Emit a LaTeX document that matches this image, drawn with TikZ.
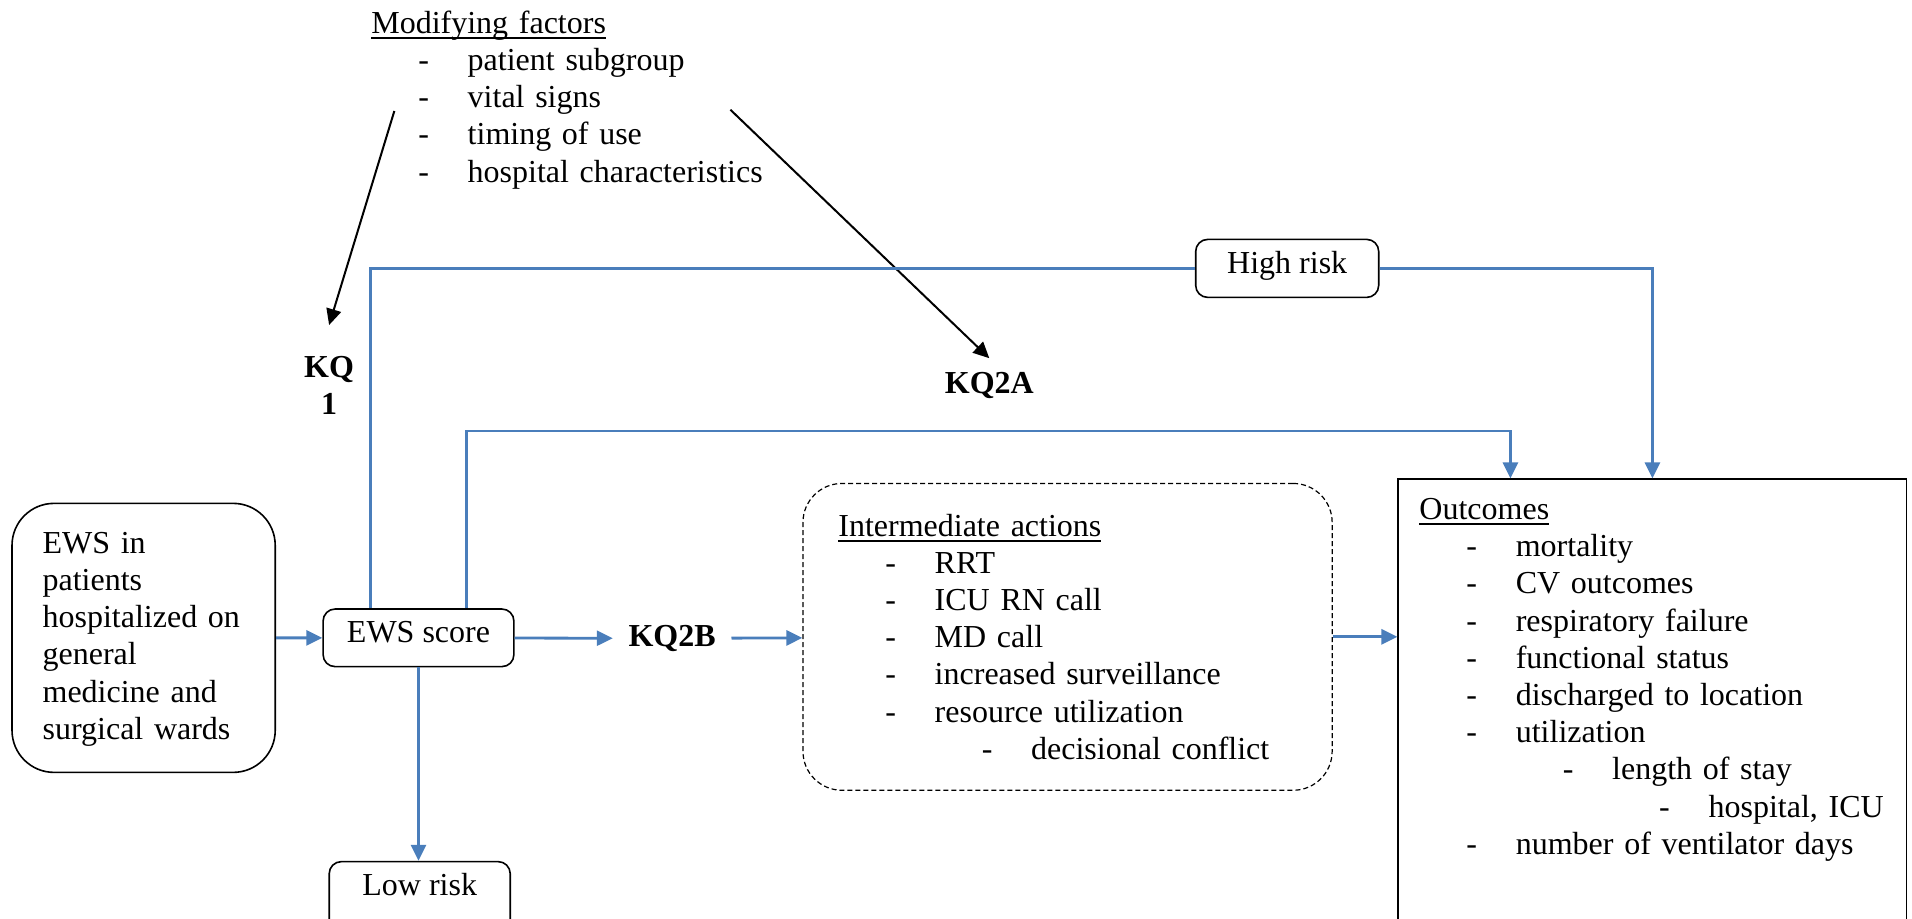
\documentclass[tikz,border=0pt]{standalone}
\usepackage{fontspec}
\setmainfont{Liberation Serif}
\usetikzlibrary{arrows.meta}
\definecolor{flowblue}{RGB}{74,126,187}
\newlength\dashstep
\setlength\dashstep{48.2pt}
\newcommand\dashitem[2][0]{\hspace*{#1\dashstep}\makebox[\dashstep][l]{\hspace*{23.5pt}-}#2}
\newcommand\undertitle[1]{\setbox0\hbox{#1}\rlap{\vrule height -2pt depth 2.8pt width \wd0}#1}

\begin{document}
\begin{tikzpicture}[x=0.6097pt, y=-0.6097pt, >={Triangle[length=8pt,width=7.5pt]},
  every node/.style={font=\fontsize{16pt}{18.6pt}\selectfont},
  box/.style={draw, line width=0.8pt, rounded corners=6pt, inner sep=0pt},
  flow/.style={draw=flowblue, line width=1.4pt},
  kq/.style={font=\fontsize{16pt}{18.6pt}\selectfont\bfseries, inner sep=0pt}]
\useasboundingbox (0,0) rectangle (1568,753);
\clip (0,0) rectangle (1568,753);

\node[anchor=base west, inner sep=0pt, text width=200pt, align=left] (factors) at (304.2,27.3)
  {\undertitle{Modifying factors}\\ \dashitem{patient~subgroup}\\ \dashitem{vital~signs}\\
   \dashitem{timing~of~use}\\ \dashitem{hospital~characteristics}};

\node[kq, anchor=north, align=center] (kqone) at (269.9,291.8) {KQ\\1};
\node[kq, anchor=base] (kqtwoa) at (811.3,322.6) {KQ2A};
\node[kq, inner xsep=7.7pt] (kqtwob) at (551.2,523.5) {KQ2B};

\node[box, rounded corners=21pt, anchor=base west, text width=101pt, align=left,
  inner xsep=15.3pt, text height=25pt, text depth=109.5pt] (ews) at (9.2,453.8)
  {EWS~in\\ patients\\ hospitalized~on\\ general\\ medicine~and\\ surgical~wards};
\node[box, anchor=base, minimum width=95.4pt, text height=16.8pt, text depth=12pt] (score) at (343.2,527) {EWS score};
\node[box, anchor=base, minimum width=90.5pt, text height=16.7pt, text depth=40pt] (low) at (344.2,734) {Low risk};
\node[box, anchor=base, minimum width=91.5pt, text height=17pt, text depth=12pt] (high) at (1055.6,224.2) {High risk};

\node[box, line width=0.6pt, dash pattern=on 2.5pt off 1.5pt, rounded corners=19.5pt, anchor=base west,
  text width=229.2pt, align=left, inner xsep=17.7pt, text height=26.3pt, text depth=127.1pt] (inter) at (658,439.6)
  {\undertitle{Intermediate actions}\\ \dashitem{RRT}\\ \dashitem{ICU~RN~call}\\ \dashitem{MD~call}\\
   \dashitem{increased~surveillance}\\ \dashitem{resource~utilization}\\ \dashitem[1]{decisional~conflict}};

\node[draw, line width=0.8pt, inner sep=0pt, anchor=base west, text width=233pt, align=left,
  inner xsep=10.6pt, text height=20.1pt, text depth=400pt] (outcomes) at (1146,426)
  {\undertitle{Outcomes}\\ \dashitem{mortality}\\ \dashitem{CV~outcomes}\\ \dashitem{respiratory~failure}\\
   \dashitem{functional~status}\\ \dashitem{discharged~to~location}\\ \dashitem{utilization}\\
   \dashitem[1]{length~of~stay}\\ \dashitem[2]{hospital,~ICU}\\ \dashitem{number~of~ventilator~days}};

\coordinate (fac1) at (323.4,91);
\coordinate (fac2) at (599,90);
\coordinate (up1) at ([xshift=-24pt]score.north);
\coordinate (up2) at ([xshift=24pt]score.north);

\draw[->, line width=1pt] (fac1) -- ([yshift=15.4pt]kqone.north);
\draw[->, line width=1pt] (fac2) -- ([yshift=6.8pt]kqtwoa.north);

\draw[flow, ->] (ews) -- (score);
\draw[flow, ->] (score) -- (kqtwob);
\draw[flow, ->] (kqtwob) -- (inter);
\draw[flow, ->] (inter.east) -- (inter.east -| outcomes.west);
\draw[flow, ->] (score) -- (score |- low.north);
\draw[flow] (up1) |- (high.west);
\draw[flow, ->] (high.east) -| (outcomes.north);
\draw[flow, ->] (up2) -- ++(0,-145.4) -| ([xshift=-71pt]outcomes.north);
\end{tikzpicture}
\end{document}
